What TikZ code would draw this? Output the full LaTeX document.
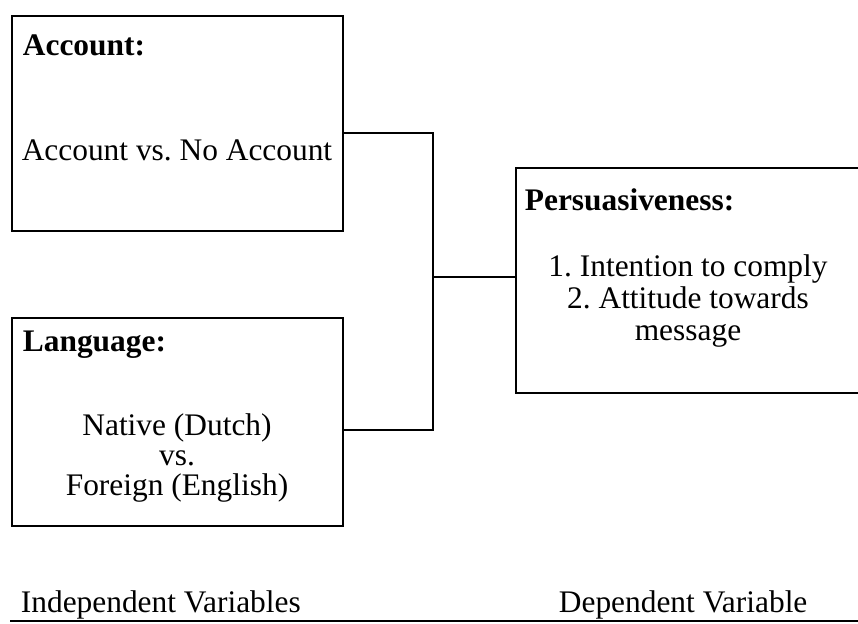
\documentclass[tikz,border=0pt]{standalone}
\usepackage{fontspec}
\setmainfont{Liberation Serif}
\usetikzlibrary{positioning}
\frenchspacing

\tikzset{
  varbox/.style={draw, line width=0.9pt},
  head/.style={font=\fontsize{15.7}{16}\selectfont\bfseries, anchor=west},
  body/.style={align=center, font=\fontsize{15.7}{16}\selectfont},
  caption/.style={font=\fontsize{15.7}{16}\selectfont, anchor=west},
}

\begin{document}
\begin{tikzpicture}[x=0.5pt, y=-0.5pt, line width=0.9pt, every node/.style={inner sep=0pt}]
  \useasboundingbox (0,0) rectangle (858,623);
  % independent variables
  \node[varbox, minimum width=165.5pt, minimum height=107.5pt] (acc) at (177.5,123.5) {};
  \node[head] (acchead) at (22,45) {Account:};
  \node[body] (accbody) at (177,150) {Account vs. No Account};
  \node[varbox, minimum width=165.5pt, minimum height=104pt] (lang) at (177.5,422) {};
  \node[head] (langhead) at (22,345) {Language:};
  \node[body, font=\fontsize{15.7}{15}\selectfont] (langbody) at (177,458) {Native (Dutch)\\vs.\\Foreign (English)};
  % dependent variable
  \node[varbox, minimum width=172pt, minimum height=112.5pt] (pers) at (688,280.5) {};
  \node[head] (pershead) at (524,200) {Persuasiveness:};
  \node[body] (persbody) at (688,301) {1. Intention to comply\\2. Attitude towards\hspace*{0.65em}\\message};
  % connectors
  \coordinate (join) at (433,277);
  \draw ([yshift=-4.75pt]acc.east) -| (join) |- ([yshift=-4pt]lang.east);
  \draw (join) -- (pers.west |- join);
  % bottom labels
  \node[caption] (indep) at (20,605) {Independent Variables};
  \node[caption] (dep) at (558,605) {Dependent Variable};
  \draw (10,621) -- (870,621);
\end{tikzpicture}
\end{document}
